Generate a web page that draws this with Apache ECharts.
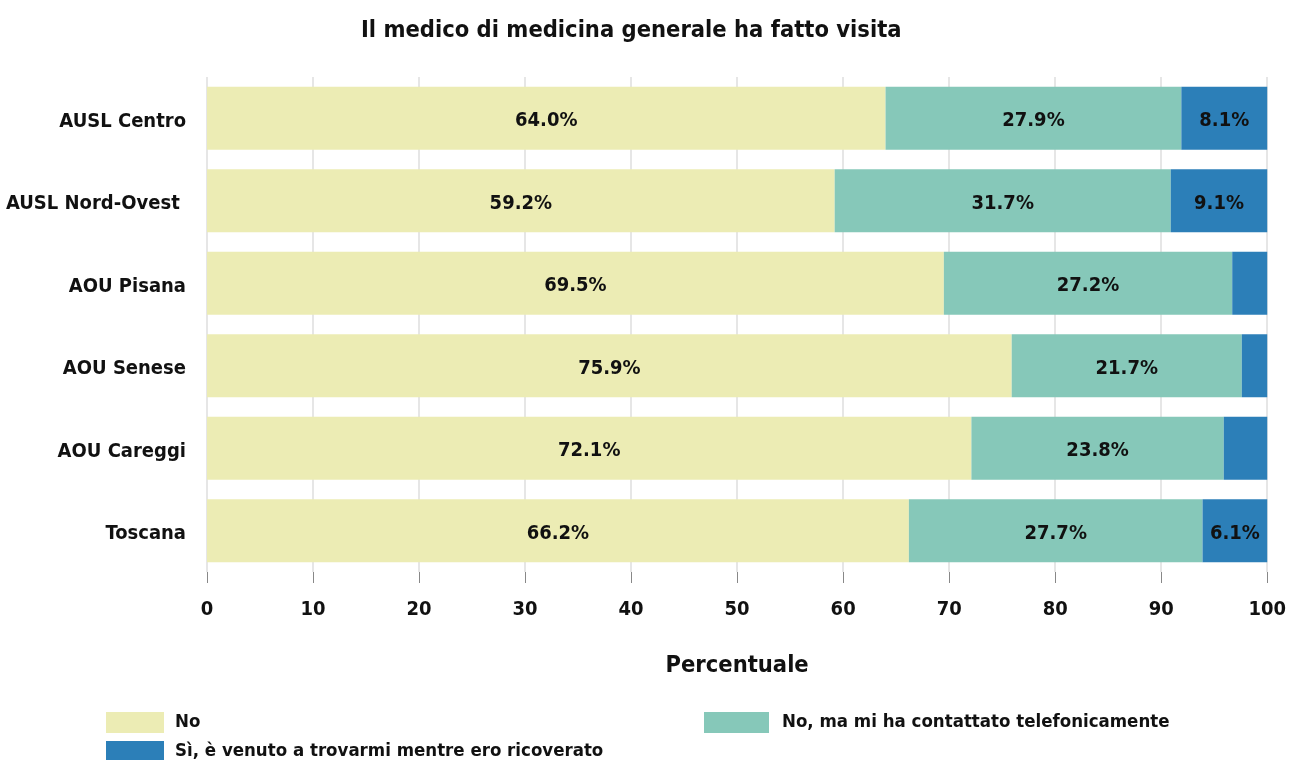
<!DOCTYPE html>
<html>
<head>
<meta charset="utf-8">
<title>Il medico di medicina generale ha fatto visita</title>
<script src="https://cdn.jsdelivr.net/npm/echarts@6/dist/echarts.min.js"></script>
<style>
  html, body { margin: 0; padding: 0; background: #fff; }
  #chart { width: 1289px; height: 760px; }
</style>
</head>
<body>
<div id="chart"></div>
<script>
var FONT = "'DejaVu Sans Condensed', 'Roboto', sans-serif";

var categories = ['AUSL Centro', 'AUSL Nord-Ovest ', 'AOU Pisana', 'AOU Senese', 'AOU Careggi', 'Toscana'];
var seriesNames = ['No', 'No, ma mi ha contattato telefonicamente', 'Sì, è venuto a trovarmi mentre ero ricoverato'];
var valNo = [64.0, 59.2, 69.5, 75.9, 72.1, 66.2];
var valPhone = [27.9, 31.7, 27.2, 21.7, 23.8, 27.7];
var valVisit = [8.1, 9.1, 3.3, 2.4, 4.1, 6.1];
var colors = ['#ECECB4', '#86C8B9', '#2C7FB8'];

function makeSeries(name, data, color) {
  return {
    name: name,
    type: 'bar',
    stack: 'tot',
    barWidth: 63,
    data: data,
    itemStyle: { color: color },
    label: {
      show: true,
      position: 'inside',
      offset: [0, 3],
      color: '#111',
      fontFamily: FONT,
      fontWeight: 'bold',
      fontSize: 20,
      formatter: function (p) {
        return p.value >= 5 ? p.value.toFixed(1) + '%' : '';
      }
    }
  };
}

function legendAt(name, left, top, w, pad) {
  return {
    data: [name],
    left: left, top: top,
    itemWidth: w, itemHeight: 21,
    icon: 'rect',
    textStyle: { fontFamily: FONT, fontWeight: 'bold', fontSize: 18.5, color: '#111', padding: [0, 0, 0, pad] }
  };
}

var chart = echarts.init(document.getElementById('chart'));
chart.setOption({
  animation: false,
  textStyle: { fontFamily: FONT },
  title: {
    text: 'Il medico di medicina generale ha fatto visita',
    left: 356,
    top: 14,
    textStyle: { fontFamily: FONT, fontWeight: 'bold', fontSize: 23.5, color: '#111' }
  },
  legend: [
    legendAt(seriesNames[0], 101, 707, 58, 6),
    legendAt(seriesNames[1], 699, 707, 65, 8),
    legendAt(seriesNames[2], 101, 736, 58, 6)
  ],
  grid: { left: 207, right: 15, top: 77, bottom: 188 },
  xAxis: {
    type: 'value',
    min: 0, max: 100, interval: 10,
    name: 'Percentuale',
    nameLocation: 'middle',
    nameGap: 82,
    nameTextStyle: { fontFamily: FONT, fontWeight: 'bold', fontSize: 23.5, color: '#111' },
    axisLine: { show: false },
    axisTick: { show: true, length: 11, lineStyle: { color: '#888' } },
    axisLabel: { margin: 28, fontFamily: FONT, fontWeight: 'bold', fontSize: 20, color: '#111' },
    splitLine: { show: true, lineStyle: { color: '#e6e6e6', width: 2 } }
  },
  yAxis: {
    type: 'category',
    data: categories,
    inverse: true,
    axisLine: { show: false },
    axisTick: { show: false },
    axisLabel: {
      margin: 21,
      formatter: function (v) { return '{c|' + v + '}'; },
      rich: { c: { padding: [7, 0, 0, 0], fontFamily: FONT, fontWeight: 'bold', fontSize: 20, color: '#111' } }
    }
  },
  series: [
    makeSeries(seriesNames[0], valNo, colors[0]),
    makeSeries(seriesNames[1], valPhone, colors[1]),
    makeSeries(seriesNames[2], valVisit, colors[2])
  ]
});
</script>
</body>
</html>
